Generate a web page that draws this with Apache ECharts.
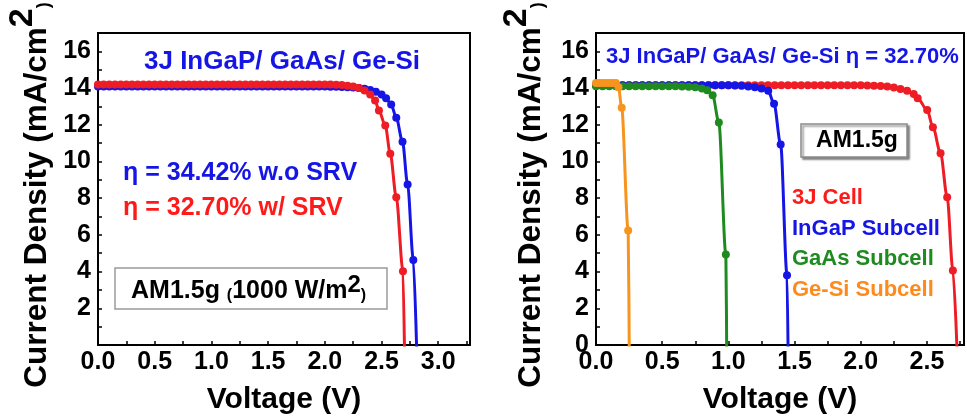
<!DOCTYPE html>
<html>
<head>
<meta charset="utf-8">
<script src="https://cdn.jsdelivr.net/npm/echarts@6/dist/echarts.min.js"></script>
<style>
  html, body { margin: 0; padding: 0; background: #fff; }
  #chart { width: 967px; height: 420px; }
</style>
</head>
<body>
<div id="chart"></div>
<script>
// J-V curves: voltage (V) and current density (mA/cm2)

// left panel: 3J cell without / with SRV
const leftNoSrvV = [0, 0.05, 0.1, 0.15, 0.2, 0.25, 0.3, 0.35, 0.4, 0.45, 0.5, 0.55, 0.6, 0.65, 0.7, 0.75,
  0.8, 0.85, 0.9, 0.95, 1, 1.05, 1.1, 1.15, 1.2, 1.25, 1.3, 1.35, 1.4, 1.45, 1.5, 1.55, 1.6, 1.65, 1.7, 1.75,
  1.8, 1.85, 1.9, 1.95, 2, 2.05, 2.1, 2.15, 2.2, 2.25, 2.3, 2.35,
  2.4, 2.45, 2.5, 2.54, 2.585, 2.63, 2.685, 2.73, 2.78, 2.813];
const leftNoSrvJ = [14.08, 14.08, 14.08, 14.08, 14.08, 14.08, 14.08, 14.08, 14.08, 14.08,
  14.08, 14.08, 14.08, 14.08, 14.08, 14.08, 14.08, 14.08, 14.08, 14.08,
  14.08, 14.08, 14.08, 14.08, 14.08, 14.08, 14.08, 14.08, 14.08, 14.08,
  14.08, 14.08, 14.08, 14.08, 14.08, 14.08, 14.08, 14.08, 14.08, 14.08, 14.08,
  14.07, 14.07, 14.06, 14.05, 14.03, 14.0, 13.96,
  13.9, 13.8, 13.65, 13.45, 13.1, 12.38, 11.08, 8.75, 4.63, -1];

const leftSrvV = [0, 0.05, 0.1, 0.15, 0.2, 0.25, 0.3, 0.35, 0.4, 0.45, 0.5, 0.55, 0.6, 0.65, 0.7, 0.75,
  0.8, 0.85, 0.9, 0.95, 1, 1.05, 1.1, 1.15, 1.2, 1.25, 1.3, 1.35, 1.4, 1.45, 1.5, 1.55, 1.6, 1.65, 1.7, 1.75,
  1.8, 1.85, 1.9, 1.95, 2, 2.05, 2.1, 2.15, 2.2, 2.25, 2.3, 2.35,
  2.4, 2.443, 2.477, 2.533, 2.577, 2.63, 2.689, 2.704];
const leftSrvJ = [14.2, 14.2, 14.2, 14.2, 14.2, 14.2, 14.2, 14.2, 14.2, 14.2,
  14.2, 14.2, 14.2, 14.2, 14.2, 14.2, 14.2, 14.2, 14.2, 14.2,
  14.2, 14.2, 14.2, 14.2, 14.2, 14.2, 14.2, 14.2, 14.2, 14.2,
  14.2, 14.2, 14.2, 14.2, 14.2, 14.2, 14.2, 14.2, 14.2, 14.2, 14.2,
  14.19, 14.18, 14.16, 14.13, 14.08, 14.0, 13.87,
  13.65, 13.32, 12.78, 11.96, 10.42, 8.05, 4.02, -1];

// right panel: 3J cell and its subcells
const rightCellV = [0, 0.05, 0.1, 0.15, 0.2, 0.25, 0.3, 0.35, 0.4, 0.45, 0.5, 0.55, 0.6, 0.65, 0.7, 0.75,
  0.8, 0.85, 0.9, 0.95, 1, 1.05, 1.1, 1.15, 1.2, 1.25, 1.3, 1.35, 1.4, 1.45, 1.5, 1.55, 1.6, 1.65, 1.7, 1.75,
  1.8, 1.85, 1.9, 1.95, 2, 2.05, 2.1,
  2.15, 2.2, 2.25, 2.3, 2.35, 2.4, 2.43, 2.502, 2.545, 2.603, 2.653, 2.696, 2.731];
const rightCellJ = [14.15, 14.15, 14.15, 14.15, 14.15, 14.15, 14.15, 14.15, 14.15, 14.15,
  14.15, 14.15, 14.15, 14.15, 14.15, 14.15, 14.15, 14.15, 14.15, 14.15,
  14.15, 14.15, 14.15, 14.15, 14.15, 14.15, 14.15, 14.15, 14.15, 14.15,
  14.15, 14.15, 14.15, 14.15, 14.15, 14.15, 14.15, 14.15, 14.15, 14.15, 14.15,
  14.14, 14.13,
  14.11, 14.08, 14.03, 13.95, 13.85, 13.68, 13.45, 12.8, 11.87, 10.45, 8.05, 4.06, -1];

const rightInGaPV = [0, 0.05, 0.1, 0.15, 0.2, 0.25, 0.3, 0.35, 0.4, 0.45, 0.5, 0.55, 0.6, 0.65, 0.7, 0.75,
  0.8, 0.85, 0.9, 0.95, 1, 1.05, 1.1, 1.15,
  1.2, 1.25, 1.301, 1.345, 1.395, 1.443, 1.452];
const rightInGaPJ = [14.15, 14.15, 14.15, 14.15, 14.15, 14.15, 14.15, 14.15, 14.15, 14.15,
  14.15, 14.15, 14.15, 14.15, 14.15, 14.15, 14.15, 14.15, 14.15, 14.15, 14.15,
  14.14, 14.12, 14.09,
  14.04, 13.97, 13.85, 13.14, 10.92, 3.8, -1];

const rightGaAsV = [0, 0.05, 0.1, 0.15, 0.2, 0.25, 0.3, 0.35, 0.4, 0.45, 0.5, 0.55, 0.6, 0.65, 0.7, 0.75,
  0.8, 0.84, 0.881, 0.928, 0.981, 0.988];
const rightGaAsJ = [14.1, 14.1, 14.1, 14.1, 14.1, 14.1, 14.1, 14.1, 14.1, 14.1, 14.1, 14.1, 14.1,
  14.09, 14.07, 14.04,
  13.98, 13.88, 13.61, 12.13, 4.93, -1];

const rightGeSiV = [0, 0.025, 0.05, 0.075, 0.1, 0.125, 0.15, 0.17, 0.194, 0.243, 0.252];
const rightGeSiJ = [14.27, 14.27, 14.27, 14.27, 14.27, 14.27, 14.27, 14.05, 12.93, 6.24, -1];

const FONT = "'Liberation Sans', Arial, sans-serif";
const RED = '#ee1c25';
const BLUE = '#1515e6';
const GREEN = '#1f8a1f';
const ORANGE = '#f7941d';

function curve(name, V, J, color, idx) {
  return {
    type: 'line',
    name: name,
    xAxisIndex: idx,
    yAxisIndex: idx,
    data: V.map((v, i) => [v, J[i]]),
    symbol: 'circle',
    symbolSize: 8,
    smooth: 0.3,
    smoothMonotone: 'x',
    clip: true,
    lineStyle: { color: color, width: 3 },
    itemStyle: { color: color }
  };
}

function xAxis(idx, max) {
  return {
    type: 'value',
    gridIndex: idx,
    min: 0,
    max: max,
    interval: 0.25,
    name: 'Voltage (V)',
    nameLocation: 'middle',
    nameGap: 40,
    nameTextStyle: { fontFamily: FONT, fontWeight: 'bold', fontSize: 30, color: '#000' },
    axisLine: { onZero: false, lineStyle: { color: '#000', width: 2 } },
    axisTick: { inside: true, length: 4, lineStyle: { color: '#000', width: 1.5 } },
    axisLabel: {
      margin: 5,
      fontFamily: FONT, fontWeight: 'bold', fontSize: 25, color: '#000',
      formatter: v => (Math.abs(v * 2 - Math.round(v * 2)) < 1e-6 ? v.toFixed(1) : '')
    },
    splitLine: { show: false }
  };
}

function yAxis(idx, showZero, gap) {
  return {
    type: 'value',
    gridIndex: idx,
    min: 0,
    max: 17,
    interval: 1,
    name: '{a|Current Density (mA/cm}{s|2}{p|)}',
    nameLocation: 'middle',
    nameGap: gap,
    nameTextStyle: {
      padding: [0, 12, 0, 0],
      rich: {
        a: { fontFamily: FONT, fontWeight: 'bold', fontSize: 31.5, color: '#000', lineHeight: 35, verticalAlign: 'bottom' },
        s: { fontFamily: FONT, fontWeight: 'bold', fontSize: 34, color: '#000', lineHeight: 35, padding: [0, 0, 13, 0], verticalAlign: 'bottom' },
        p: { fontFamily: FONT, fontWeight: 'bold', fontSize: 18, color: '#000', lineHeight: 24, verticalAlign: 'bottom' }
      }
    },
    axisLine: { onZero: false, lineStyle: { color: '#000', width: 2 } },
    axisTick: { inside: true, length: 4, lineStyle: { color: '#000', width: 1.5 } },
    axisLabel: {
      margin: 7,
      fontFamily: FONT, fontWeight: 'bold', fontSize: 25, color: '#000',
      formatter: v => (v % 2 === 0 && (showZero || v !== 0) ? String(v) : '')
    },
    splitLine: { show: false }
  };
}

function label(text, x, y, color, size, align) {
  return {
    type: 'text',
    x: x,
    y: y,
    z: 10,
    style: {
      text: text,
      fill: color,
      font: 'bold ' + size + 'px ' + FONT,
      textAlign: align || 'left',
      textVerticalAlign: 'middle'
    }
  };
}

const chart = echarts.init(document.getElementById('chart'));

chart.setOption({
  animation: false,
  backgroundColor: '#fff',
  grid: [
    { left: 98, top: 33, width: 372, height: 312, show: true, borderColor: '#000', borderWidth: 2 },
    { left: 596, top: 33, width: 369, height: 312, show: true, borderColor: '#000', borderWidth: 2 }
  ],
  xAxis: [xAxis(0, 3.28), xAxis(1, 2.78)],
  yAxis: [yAxis(0, false, 45), yAxis(1, true, 49)],
  series: [
    curve('w.o SRV', leftNoSrvV, leftNoSrvJ, BLUE, 0),
    curve('w/ SRV', leftSrvV, leftSrvJ, RED, 0),
    curve('3J Cell', rightCellV, rightCellJ, RED, 1),
    curve('InGaP Subcell', rightInGaPV, rightInGaPJ, BLUE, 1),
    curve('GaAs Subcell', rightGaAsV, rightGaAsJ, GREEN, 1),
    curve('Ge-Si Subcell', rightGeSiV, rightGeSiJ, ORANGE, 1)
  ],
  graphic: [
    // left panel annotations
    label('3J InGaP/ GaAs/ Ge-Si', 282, 62, BLUE, 26, 'center'),
    label('η = 34.42% w.o SRV', 123, 173, BLUE, 25),
    label('η = 32.70% w/ SRV', 123, 208, '#ff1a1a', 25),
    {
      type: 'rect', z: 9,
      shape: { x: 115, y: 268, width: 272, height: 41 },
      style: { fill: '#fff', stroke: '#9a9a9a', lineWidth: 1.5 }
    },
    {
      type: 'text', x: 131, y: 289, z: 10,
      style: {
        text: '{a|AM1.5g }{p|(}{a|1000 W/m}{s|2}{p|)}',
        textVerticalAlign: 'middle',
        rich: {
          a: { fontFamily: FONT, fontWeight: 'bold', fontSize: 25, fill: '#000', lineHeight: 30, verticalAlign: 'bottom' },
          s: { fontFamily: FONT, fontWeight: 'bold', fontSize: 24, fill: '#000', lineHeight: 30, padding: [0, 0, 7, 0], verticalAlign: 'bottom' },
          p: { fontFamily: FONT, fontWeight: 'bold', fontSize: 16, fill: '#000', lineHeight: 20, verticalAlign: 'bottom' }
        }
      }
    },
    // right panel annotations
    label('3J InGaP/ GaAs/ Ge-Si η = 32.70%', 606, 57, BLUE, 22),
    {
      type: 'rect', z: 9,
      shape: { x: 801, y: 124, width: 106, height: 33 },
      style: { fill: '#fff', stroke: '#8a8a8a', lineWidth: 1.5,
        shadowBlur: 2, shadowOffsetX: 2, shadowOffsetY: 2, shadowColor: 'rgba(0,0,0,0.45)' }
    },
    label('AM1.5g', 857, 141, '#000', 23, 'center'),
    label('3J Cell', 792, 198, '#ff1a1a', 22),
    label('InGaP Subcell', 792, 229, BLUE, 22),
    label('GaAs Subcell', 792, 259, GREEN, 22),
    label('Ge-Si Subcell', 792, 290, '#ff8a1c', 22)
  ]
});
</script>
</body>
</html>
